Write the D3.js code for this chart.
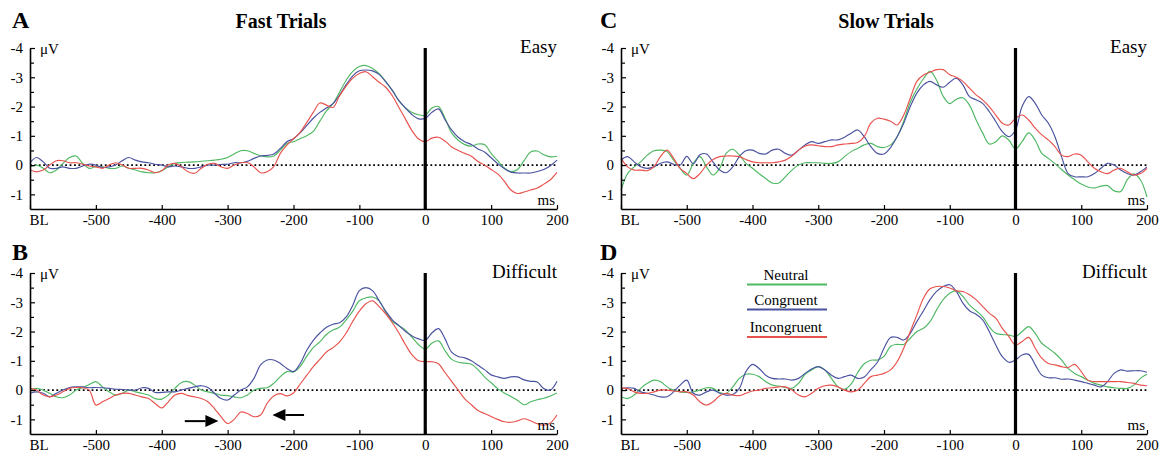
<!DOCTYPE html>
<html><head><meta charset="utf-8">
<script src="https://cdn.jsdelivr.net/npm/d3@7"></script>
<style>body{margin:0;background:#fff}svg{display:block}</style>
</head><body><svg id="c" width="1166" height="457"></svg>
<script>
const seriesNames = ["Neutral","Congruent","Incongruent"];
const seriesColors = ["#4fb863","#4a52a0","#e8524e"];
const yTickValues = [-4,-3,-2,-1,0,1];
const yTickLabels = ["-4","-3","-2","-1","0","-1"];
const yMinorTicks = [-3.5,-2.5,-1.5,-0.5,0.5];
const xTickValues = [-600,-500,-400,-300,-200,-100,0,100,200];
const xTickLabels = ["BL","-500","-400","-300","-200","-100","0","100","200"];
const timeStart = -600, timeEnd = 200, timeStep = 10;

const neutralA = [0.06,0,0.11,0.26,0.17,-0.06,-0.26,-0.31,-0.06,0.11, 0.05,0.06,0.11,0.11,0.03,0.11,0.17,0.23,0.26,0.26, 0.19,0.06,-0.06,-0.09,-0.1,-0.11,-0.13,-0.15,-0.17,-0.2, -0.26,-0.38,-0.49,-0.49,-0.4,-0.32,-0.28,-0.31,-0.51,-0.74,
-0.8,-0.9,-1.0,-1.15,-1.5,-1.85,-2.1,-2.5,-2.9,-3.2, -3.37,-3.4,-3.3,-3.12,-2.85,-2.55,-2.2,-1.95,-1.8,-1.72, -1.7,-1.95,-2.0,-1.6,-1.1,-0.85,-0.7,-0.65,-0.72,-0.7, -0.4,-0.15,0.1,0.22,0.15,-0.15,-0.45,-0.48,-0.35,-0.28, -0.3];
const congruentA = [-0.08,-0.26,-0.11,0.11,0.11,0.06,0.11,0.11,0.03,-0.03, 0,0.08,0.06,0,-0.15,-0.26,-0.17,-0.11,-0.08,-0.03, 0,0.06,0.03,0.06,0.11,0.11,0.06,0,0,-0.02, -0.03,-0.08,-0.08,-0.13,-0.23,-0.31,-0.33,-0.38,-0.57,-0.8,
-0.9,-1.1,-1.35,-1.6,-1.8,-1.95,-2.1,-2.4,-2.75,-3.05, -3.22,-3.25,-3.22,-3.1,-2.85,-2.55,-2.2,-1.95,-1.72,-1.58, -1.6,-1.8,-1.92,-1.55,-1.2,-0.95,-0.8,-0.7,-0.55,-0.45, -0.25,-0.05,0.12,0.24,0.27,0.27,0.27,0.22,0.15,0.02, -0.17];
const incongruentA = [0.17,0.23,0.17,0,-0.15,-0.15,-0.08,-0.08,-0.03,0.03, 0.06,0.11,0,-0.08,0,0.11,0.11,0.11,0.17,0.26, 0.19,0,-0.06,0.06,0.23,0.28,0.11,-0.03,-0.06,0.06, 0.11,0,-0.08,-0.09,0.06,0.26,0.23,0.05,-0.4,-0.68,
-0.9,-1.12,-1.45,-1.8,-2.12,-2.05,-1.97,-2.37,-2.7,-2.97, -3.13,-3.19,-3.02,-2.83,-2.66,-2.37,-1.97,-1.57,-1.17,-0.89, -0.8,-0.92,-0.95,-0.82,-0.62,-0.5,-0.4,-0.3,-0.12,0.0, 0.15,0.3,0.55,0.85,0.97,0.92,0.85,0.78,0.65,0.5, 0.25];

const neutralB = [0,-0.06,0,0.11,0.23,0.26,0.17,0,-0.09,-0.19, -0.29,-0.11,0.06,0.17,0.11,0,0.06,0.11,0.17,0.29, 0.31,0.17,-0.06,-0.26,-0.29,-0.17,0,0.06,0.11,0.17, 0.19,0.23,0.26,0.17,0,-0.06,-0.08,-0.23,-0.46,-0.63,
-0.62,-0.8,-1.15,-1.45,-1.65,-1.9,-2.05,-2.15,-2.4,-2.7, -3.05,-3.15,-3.18,-3.05,-2.65,-2.35,-2.2,-2.05,-1.8,-1.55, -1.4,-1.6,-1.68,-1.35,-1.05,-0.95,-0.92,-0.88,-0.7,-0.45, -0.25,-0.05,0.1,0.22,0.35,0.5,0.4,0.33,0.28,0.2, 0.1];
const congruentB = [0.11,0.06,0.11,0.23,0.11,0,-0.09,-0.11,-0.11,-0.08, -0.09,-0.08,-0.06,-0.03,-0.02,0,0,-0.08,-0.06,0.08, 0.08,0.06,0.06,0,-0.06,-0.11,-0.15,-0.09,0.11,0.29, 0.34,0.17,0,-0.11,-0.4,-0.86,-1.03,-1.03,-0.91,-0.74,
-0.63,-0.9,-1.35,-1.7,-1.95,-2.15,-2.25,-2.3,-2.5,-2.9, -3.4,-3.5,-3.4,-3.05,-2.7,-2.4,-2.2,-2.0,-1.85,-1.75, -1.7,-1.95,-2.1,-1.75,-1.3,-1.15,-1.1,-1.0,-0.85,-0.7, -0.52,-0.45,-0.4,-0.45,-0.45,-0.35,-0.3,-0.28,-0.05,0.0, -0.3];
const incongruentB = [-0.06,0,0.17,0.23,0.17,0.06,-0.06,-0.09,-0.08,0, 0.51,0.4,0.29,0.17,0.11,0.11,0.17,0.23,0.29,0.46, 0.61,0.4,0.17,0.11,0.19,0.23,0.29,0.4,0.63,0.91, 1.14,1.0,0.75,0.8,0.91,0.85,0.45,0.2,0.12,0.2,
0.1,-0.2,-0.5,-0.8,-1.05,-1.3,-1.45,-1.65,-1.95,-2.35, -2.7,-2.95,-3.05,-2.85,-2.6,-2.3,-1.95,-1.55,-1.2,-1.0, -0.97,-0.97,-0.9,-0.6,-0.3,0.0,0.3,0.5,0.7,0.8, 0.9,1.0,1.08,1.1,1.05,0.98,1.05,1.15,1.2,1.12, 0.85];

const neutralC = [0.86,0.29,0.06,-0.11,-0.34,-0.49,-0.51,-0.46,-0.17,0.11, 0.34,-0.06,-0.29,0.06,0.34,0.11,-0.4,-0.54,-0.34,-0.06, 0.11,0.29,0.46,0.61,0.61,0.4,0.17,0,-0.08,-0.08, -0.08,-0.06,-0.06,-0.11,-0.29,-0.46,-0.57,-0.69,-0.74,-0.63,
-0.6,-0.69,-0.97,-1.5,-2.15,-2.6,-2.95,-3.2,-2.9,-2.35, -2.1,-2.25,-2.3,-2.05,-1.55,-1.1,-0.72,-0.8,-1.0,-0.85, -0.55,-0.8,-1.1,-0.85,-0.4,-0.23,-0.05,0.15,0.34,0.5, 0.65,0.75,0.78,0.72,0.7,0.88,0.9,0.5,0.3,0.5, 1.09];
const congruentC = [-0.17,-0.29,-0.11,0.06,0.11,0.06,-0.06,-0.11,-0.03,0, -0.3,-0.05,-0.35,-0.38,-0.1,0.17,0.26,0.06,-0.29,-0.49, -0.51,-0.4,-0.38,-0.51,-0.54,-0.4,-0.34,-0.51,-0.69,-0.8, -0.74,-0.8,-0.86,-0.86,-0.95,-1.09,-1.2,-0.97,-0.63,-0.4,
-0.38,-0.6,-0.97,-1.43,-2.0,-2.46,-2.74,-2.86,-2.74,-2.66, -2.83,-2.97,-2.74,-2.34,-2.23,-2.11,-1.83,-1.49,-1.14,-0.97, -1.2,-2.0,-2.34,-2.11,-1.71,-1.43,-0.97,-0.29,0.29,0.4, 0.4,0.4,0.29,0.11,-0.06,0,0.17,0.29,0.34,0.23, 0.06];
const incongruentC = [-0.23,0.06,0.17,0.17,0.19,0.06,-0.29,-0.51,-0.23,0.11, 0.29,0.46,0.29,0,-0.19,-0.29,-0.31,-0.31,-0.29,-0.19, -0.11,-0.08,-0.08,-0.08,-0.11,-0.17,-0.31,-0.51,-0.65,-0.69, -0.66,-0.63,-0.63,-0.69,-0.72,-0.74,-0.77,-0.97,-1.43,-1.6,
-1.57,-1.5,-1.37,-1.71,-2.29,-2.86,-3.08,-3.17,-3.26,-3.26, -3.09,-3.0,-2.86,-2.63,-2.4,-2.23,-2.0,-1.71,-1.43,-1.37, -1.6,-1.71,-1.54,-1.26,-1.03,-0.86,-0.63,-0.34,-0.29,-0.38, -0.34,-0.11,0.11,0.23,0.29,0.17,0.11,0.23,0.34,0.29, 0.11];

const neutralD = [0.23,0.29,0.17,-0.06,-0.23,-0.34,-0.29,-0.11,0,0.06, 0.08,0.06,0,-0.08,-0.06,0.08,0.11,-0.11,-0.4,-0.54, -0.54,-0.46,-0.29,-0.17,-0.14,-0.09,-0.06,-0.23,-0.54,-0.69, -0.8,-0.69,-0.4,-0.11,-0.03,-0.2,-0.6,-0.9,-1.02,-1.03,
-1.15,-1.5,-1.56,-1.56,-1.77,-2.0,-2.11,-2.34,-2.74,-3.09, -3.31,-3.39,-3.2,-2.91,-2.71,-2.51,-2.17,-1.94,-1.9,-1.88, -1.83,-2.0,-2.17,-1.94,-1.6,-1.43,-1.26,-1.03,-0.74,-0.57, -0.46,-0.34,-0.23,-0.17,-0.11,-0.08,-0.06,-0.06,-0.17,-0.4, -0.54];
const congruentD = [-0.06,-0.08,-0.06,0.06,0.11,0.17,0.23,0.23,0.06,-0.17, -0.34,0.11,0.17,0.06,0,0.11,0.17,0.15,-0.06,-0.63, -0.88,-0.74,-0.51,-0.4,-0.38,-0.38,-0.34,-0.4,-0.57,-0.72, -0.8,-0.69,-0.51,-0.4,-0.46,-0.51,-0.4,-0.45,-0.7,-0.95,
-1.43,-1.8,-1.8,-1.71,-1.94,-2.34,-2.71,-3.09,-3.37,-3.54, -3.6,-3.37,-2.97,-2.71,-2.59,-2.4,-2.0,-1.54,-1.14,-0.95, -1.03,-1.2,-1.22,-0.86,-0.51,-0.42,-0.42,-0.37,-0.38,-0.34, -0.29,-0.23,-0.17,-0.11,-0.29,-0.57,-0.69,-0.65,-0.66,-0.66, -0.61];
const incongruentD = [-0.06,-0.06,0.06,0.11,0.11,0.06,0,0,0.03,0.06, 0.06,0.17,0.4,0.51,0.4,0.19,0.11,0.17,0.19,0.11, 0.03,0,-0.06,-0.08,-0.11,-0.11,0,0.17,0.23,0.11, -0.06,-0.15,-0.17,-0.11,0,0.06,0,-0.23,-0.46,-0.51,
-0.57,-0.69,-0.97,-1.43,-2.0,-2.57,-3.14,-3.46,-3.54,-3.54, -3.49,-3.39,-3.37,-3.26,-3.09,-2.86,-2.63,-2.46,-2.11,-1.83, -1.54,-1.66,-1.8,-1.43,-1.09,-0.91,-0.86,-0.8,-0.77,-0.88, -0.63,-0.34,-0.29,-0.29,-0.29,-0.29,-0.29,-0.26,-0.23,-0.17, -0.15];

// arrows (panel B), in data units: [tailTime, tipTime, value]
const arrowsB = [[-365,-314,1.06],[-184,-232,0.85]];

const times = d3.range(timeStart, timeEnd + timeStep, timeStep);
const FONT = "'Liberation Serif','Times New Roman',serif";

const panels = [
  {letter:"A", title:"Fast Trials", cond:"Easy", series:[neutralA,congruentA,incongruentA],
   left:30, right:557, top:48, bottom:209, letterX:12, letterY:28, titleX:281},
  {letter:"B", title:null, cond:"Difficult", series:[neutralB,congruentB,incongruentB],
   left:30, right:557, top:273, bottom:434, letterX:12, letterY:260, arrows:arrowsB},
  {letter:"C", title:"Slow Trials", cond:"Easy", series:[neutralC,congruentC,incongruentC],
   left:621, right:1147, top:48, bottom:209, letterX:600, letterY:28, titleX:886},
  {letter:"D", title:null, cond:"Difficult", series:[neutralD,congruentD,incongruentD],
   left:621, right:1147, top:273, bottom:434, letterX:600, letterY:260, legend:{x1:747,x2:827,y:[284.5,309.5,337]}}
];

const svg = d3.select("#c");
svg.append("rect").attr("width",1166).attr("height",457).attr("fill","#fff");

panels.forEach(p => {
  const x = d3.scaleLinear().domain([timeStart, timeEnd]).range([p.left, p.right]);
  const y = d3.scaleLinear().domain([-4, 1.5]).range([p.top, p.bottom]);
  const g = svg.append("g");

  g.append("line").attr("x1", x(timeStart)).attr("x2", x(timeEnd))
    .attr("y1", y(0)).attr("y2", y(0))
    .attr("stroke","#000").attr("stroke-width",1.6).attr("stroke-dasharray","1.8,2.6");

  const line = d3.line().x((d,i)=>x(times[i])).y(d=>y(d)).curve(d3.curveCatmullRom.alpha(0.5));
  p.series.forEach((s, k) => {
    g.append("path").datum(s).attr("d", line).attr("fill","none")
      .attr("stroke", seriesColors[k]).attr("stroke-width",1.15);
  });

  const ya = g.append("g").attr("transform", `translate(${p.left},0)`)
    .call(d3.axisLeft(y).tickValues(yTickValues).tickFormat((d,i)=>yTickLabels[i])
      .tickSizeInner(-5).tickSizeOuter(0).tickPadding(7));
  ya.select(".domain").attr("stroke-width",1.6);
  ya.selectAll(".tick line").attr("stroke-width",1.2);
  ya.selectAll("text").attr("font-family",FONT).attr("font-size",15).attr("fill","#000");
  const ym = g.append("g").attr("transform", `translate(${p.left},0)`)
    .call(d3.axisLeft(y).tickValues(yMinorTicks).tickFormat("").tickSizeInner(-4).tickSizeOuter(0));
  ym.select(".domain").remove();
  ym.selectAll(".tick line").attr("stroke-width",1.2);

  const xa = g.append("g").attr("transform", `translate(0,${p.bottom})`)
    .call(d3.axisBottom(x).tickValues(xTickValues).tickFormat((d,i)=>xTickLabels[i])
      .tickSizeInner(-4).tickSizeOuter(0).tickPadding(5));
  xa.select(".domain").attr("stroke-width",1.6);
  xa.selectAll(".tick line").attr("stroke-width",1.2);
  xa.selectAll("text").attr("font-family",FONT).attr("font-size",15).attr("fill","#000");
  xa.selectAll(".tick").filter(d=>d===timeStart).select("text").attr("text-anchor","start").attr("x",-1);

  g.append("line").attr("x1", x(0)).attr("x2", x(0)).attr("y1", y(-4)).attr("y2", y(1.5))
    .attr("stroke","#000").attr("stroke-width",3.2);

  g.append("text").attr("x", p.left + 10).attr("y", y(-4) + 6).text("μV")
    .attr("font-family",FONT).attr("font-size",15);
  g.append("text").attr("x", p.right - 2).attr("y", p.bottom - 4).attr("text-anchor","end").text("ms")
    .attr("font-family",FONT).attr("font-size",15);
  g.append("text").attr("x", p.right).attr("y", y(-4) + 5).attr("text-anchor","end").text(p.cond)
    .attr("font-family",FONT).attr("font-size",19);
  g.append("text").attr("x", p.letterX).attr("y", p.letterY).text(p.letter)
    .attr("font-family",FONT).attr("font-size",24).attr("font-weight","bold");
  if (p.title) {
    g.append("text").attr("x", p.titleX).attr("y", 28).attr("text-anchor","middle").text(p.title)
      .attr("font-family",FONT).attr("font-size",20).attr("font-weight","bold");
  }

  if (p.arrows) {
    p.arrows.forEach(([t0, t1, v]) => {
      const xa0 = x(t0), xa1 = x(t1), yy = y(v);
      const dir = Math.sign(xa1 - xa0);
      const hx = xa1 - dir*13;
      g.append("line").attr("x1", xa0).attr("x2", hx).attr("y1", yy).attr("y2", yy)
        .attr("stroke","#000").attr("stroke-width",2);
      g.append("path").attr("d", `M${xa1},${yy}L${hx},${yy-6}L${hx},${yy+6}Z`).attr("fill","#000");
    });
  }

  if (p.legend) {
    const L = p.legend;
    seriesNames.forEach((n, k) => {
      g.append("line").attr("x1", L.x1).attr("x2", L.x2).attr("y1", L.y[k]).attr("y2", L.y[k])
        .attr("stroke", seriesColors[k]).attr("stroke-width",2);
      g.append("text").attr("x", (L.x1+L.x2)/2 - 1).attr("y", L.y[k] - 5).attr("text-anchor","middle")
        .text(n).attr("font-family",FONT).attr("font-size",15);
    });
  }
});
</script></body></html>
